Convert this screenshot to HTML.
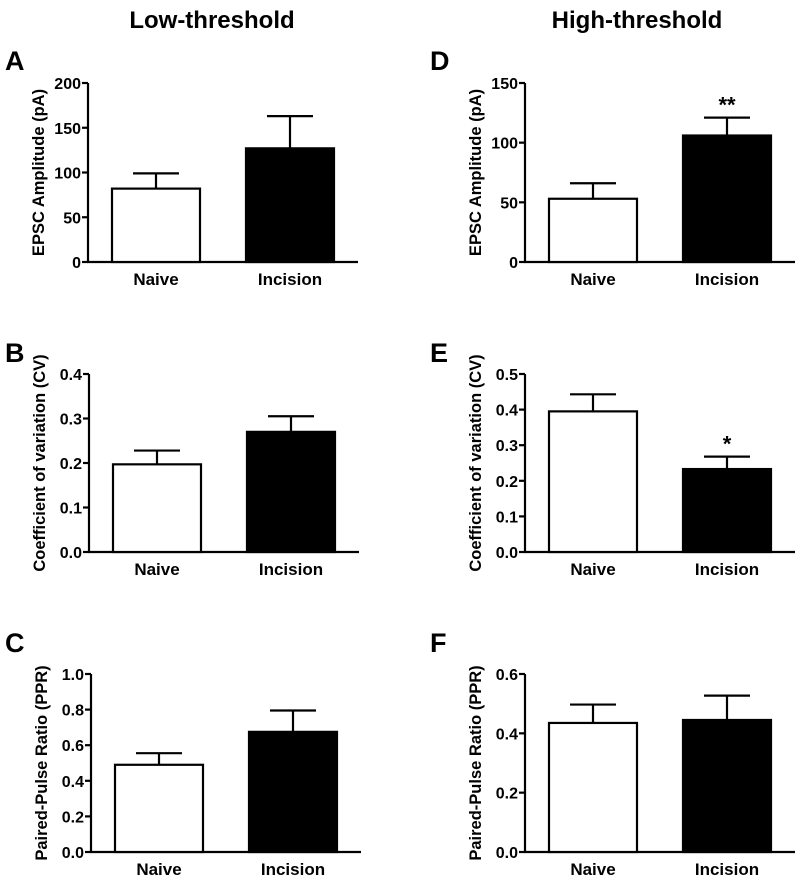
<!DOCTYPE html>
<html><head><meta charset="utf-8"><style>
html,body{margin:0;padding:0;background:#fff;}
svg text{font-family:"Liberation Sans",Arial,sans-serif;font-weight:bold;fill:#000;}
</style></head><body>
<svg id="fig" width="800" height="880" viewBox="0 0 800 880" xmlns="http://www.w3.org/2000/svg">
<text x="212" y="28" font-size="24" text-anchor="middle">Low-threshold</text>
<text x="637" y="28" font-size="24" text-anchor="middle">High-threshold</text>
</svg>
<script>
const categories = ["Naive", "Incision"];
const panelLetters = ["A","B","C","D","E","F"];
const yTitles = ["EPSC Amplitude (pA)","Coefficient of variation (CV)","Paired-Pulse Ratio (PPR)","EPSC Amplitude (pA)","Coefficient of variation (CV)","Paired-Pulse Ratio (PPR)"];
const meansA = [82, 127];
const errsA = [99, 163];
const meansB = [0.197, 0.270];
const errsB = [0.228, 0.305];
const meansC = [0.490, 0.675];
const errsC = [0.555, 0.795];
const meansD = [53, 106];
const errsD = [66, 121];
const meansE = [0.395, 0.233];
const errsE = [0.443, 0.268];
const meansF = [0.435, 0.445];
const errsF = [0.497, 0.527];
const ticksA = ["0","50","100","150","200"];
const ticksB = ["0.0","0.1","0.2","0.3","0.4"];
const ticksC = ["0.0","0.2","0.4","0.6","0.8","1.0"];
const ticksD = ["0","50","100","150"];
const ticksE = ["0.0","0.1","0.2","0.3","0.4","0.5"];
const ticksF = ["0.0","0.2","0.4","0.6"];
const sigLabels = [["",""],["",""],["",""],["","**"],["","*"],["",""]];

const NS = "http://www.w3.org/2000/svg";
const svg = document.getElementById("fig");
function mk(tag, attrs, parent){const e=document.createElementNS(NS,tag);for(const k in attrs)e.setAttribute(k,attrs[k]);(parent||svg).appendChild(e);return e;}

const panels = [
 {means:meansA,errs:errsA,ticks:ticksA,ax:88,top:83,zero:262,lx:5,ly:70},
 {means:meansB,errs:errsB,ticks:ticksB,ax:89,top:374,zero:552,lx:5,ly:362},
 {means:meansC,errs:errsC,ticks:ticksC,ax:91,top:674,zero:852,lx:5,ly:652},
 {means:meansD,errs:errsD,ticks:ticksD,ax:525,top:83,zero:262,lx:430,ly:70},
 {means:meansE,errs:errsE,ticks:ticksE,ax:525,top:374,zero:552,lx:430,ly:362},
 {means:meansF,errs:errsF,ticks:ticksF,ax:525,top:674,zero:852,lx:430,ly:652}
];

panels.forEach((p,i)=>{
  const g = mk("g",{});
  
  
  const maxV = parseFloat(p.ticks[p.ticks.length-1]);
  const y = v => p.zero - (v/maxV)*(p.zero-p.top);
  const lt = mk("text",{x:p.lx,y:p.ly,"font-size":27},g); lt.textContent=panelLetters[i];
  
  
  const ya = mk("line",{x1:p.ax,y1:p.top,x2:p.ax,y2:p.zero,stroke:"#000","stroke-width":2.2},g);
  
  
  p.ticks.forEach(t=>{
    const v=parseFloat(t), yy=y(v);
    mk("line",{x1:p.ax-6,y1:yy,x2:p.ax,y2:yy,stroke:"#000","stroke-width":2.2},g);
    const tx = mk("text",{x:p.ax-7,y:yy+6,"font-size":16,"text-anchor":"end"},g); tx.textContent=t;
    
    
  });
  const tt = mk("text",{transform:`translate(${p.ax-44},${(p.top+p.zero)/2}) rotate(-90)`,"font-size":16.5,"text-anchor":"middle"},g);
  tt.textContent = yTitles[i];
  
  
  const xa = mk("line",{x1:p.ax-1,y1:p.zero,x2:p.ax+270,y2:p.zero,stroke:"#000","stroke-width":2.2},g);
  
  
  categories.forEach((c,j)=>{
    const bx = p.ax + 24 + j*134, bw = 88, cx = bx+bw/2;
    const ey = y(p.errs[j]), my = y(p.means[j]);
    mk("line",{x1:cx,y1:ey,x2:cx,y2:my,stroke:"#000","stroke-width":2.2},g);
    mk("line",{x1:cx-23,y1:ey,x2:cx+23,y2:ey,stroke:"#000","stroke-width":2.2},g);
    const b = mk("rect",{x:bx,y:my,width:bw,height:p.zero-my,fill:j?"#000":"#fff",stroke:"#000","stroke-width":2.2},g);
    
    
    const cl = mk("text",{x:cx,y:p.zero+23,"font-size":17,"text-anchor":"middle"},g); cl.textContent=c;
    
    
    if(sigLabels[i][j]){
      const s = mk("text",{x:cx,y:ey-5,"font-size":22,"text-anchor":"middle"},g); s.textContent=sigLabels[i][j];
      
      
    }
  });
});
</script>
</body></html>
